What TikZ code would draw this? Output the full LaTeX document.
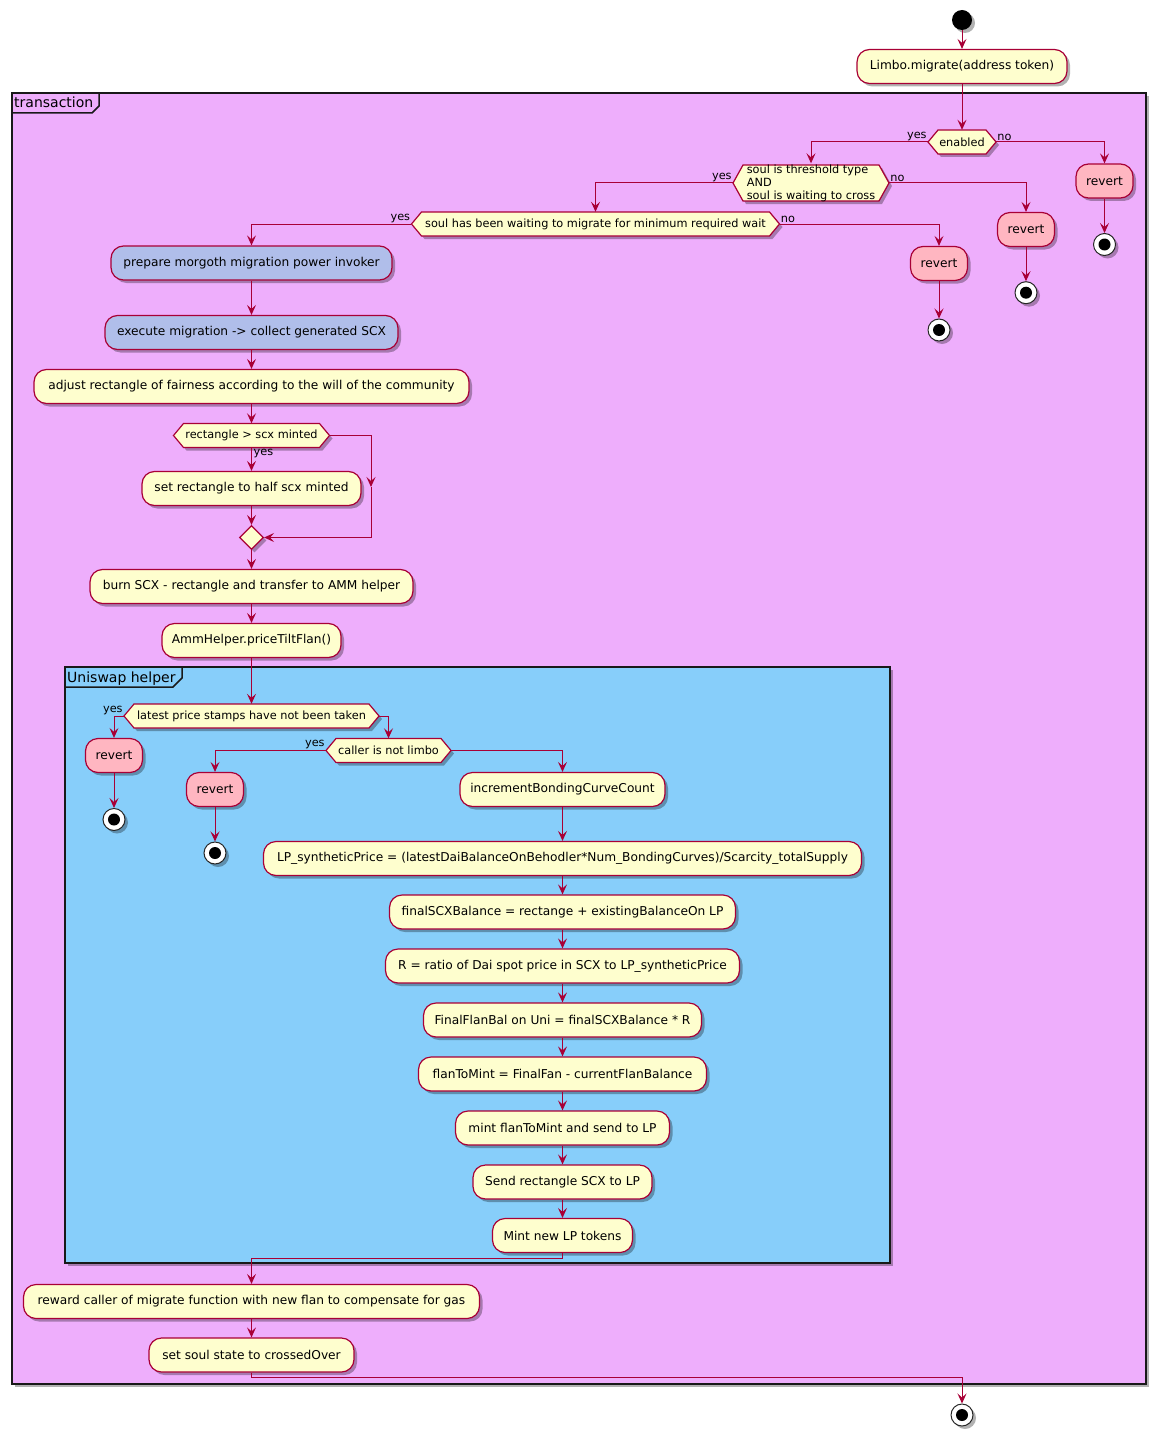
\documentclass[tikz,border=0pt]{standalone}
\usepackage{fontspec}
\setmainfont{DejaVu Sans}
\usetikzlibrary{arrows.meta,shadows,shapes.geometric}

\definecolor{umlborder}{RGB}{168,0,54}
\definecolor{umlcream}{RGB}{254,254,206}
\definecolor{umlpink}{RGB}{255,182,193}
\definecolor{umlsteel}{RGB}{176,190,234}
\definecolor{txfill}{RGB}{238,174,252}
\definecolor{uniswapfill}{RGB}{135,206,250}

\tikzset{
  shade/.style={drop shadow={shadow xshift=3pt,shadow yshift=-3pt,opacity=.3,fill=black}},
  act/.style={draw=umlborder, line width=1.2pt, fill=umlcream, rounded corners=12.5pt,
    minimum height=34pt, inner sep=0pt, font=\fontsize{12.2}{14}\selectfont, shade},
  revertbox/.style={act, fill=umlpink, minimum width=57pt},
  steelbox/.style={act, fill=umlsteel},
  decshape/.style={draw=umlborder, line width=1.2pt, fill=umlcream, shade},
  dectext/.style={inner sep=0pt, font=\fontsize{11.3}{13}\selectfont},
  mergebox/.style={diamond, draw=umlborder, line width=1.2pt, fill=umlcream,
    minimum width=24pt, minimum height=24pt, inner sep=0pt, shade},
  lbl/.style={inner sep=1pt, font=\fontsize{11.3}{13}\selectfont},
  arr/.style={draw=umlborder, line width=1pt, -{Stealth[length=10pt,width=9pt,inset=4pt]}},
  startnode/.style={circle, fill=black, minimum size=20pt, inner sep=0pt, shade},
  stopnode/.style={circle, draw=black!85, line width=1pt, fill=white, minimum size=22pt,
    inner sep=0pt, shade,
    path picture={\fill[black] (path picture bounding box.center) circle (6pt);}},
  framebox/.style={draw=black!90, line width=1.5pt, inner sep=0pt, shade},
  frametab/.style={draw=black!90, line width=1.5pt},
  framelabel/.style={inner sep=0pt, anchor=base west, font=\fontsize{14}{16}\selectfont},
}

% hexagonal decision: name, centre x, centre y, half width, half height, text
\newcommand\umldecision[6]{%
  \filldraw[decshape] ({#2-#4},#3) -- ({#2-#4+10},{#3-#5}) -- ({#2+#4-10},{#3-#5})
    -- ({#2+#4},#3) -- ({#2+#4-10},{#3+#5}) -- ({#2-#4+10},{#3+#5}) -- cycle;
  \node[dectext, minimum width={2*#4}, minimum height={2*#5}] (#1) at (#2,#3) {#6};%
}

\begin{document}
\begin{tikzpicture}[x=1pt,y=-1pt]
\useasboundingbox (0,0) rectangle (1161,1442);

% frames
\node[framebox, fill=txfill, minimum width=1134pt, minimum height=1291pt] (trans) at (579,738.5) {};
\draw[frametab] (99,93) -- (99,106) -- (92,113) -- (12,113);
\node[framelabel] (translbl) at (14,108) {transaction};

\node[framebox, fill=uniswapfill, minimum width=825pt, minimum height=596pt] (uni) at (477.5,965) {};
\draw[frametab] (182,667) -- (182,678) -- (173,687) -- (65,687);
\node[framelabel] (unilbl) at (67,682) {Uniswap helper};

% top of the flow
\node[startnode] (start) at (962,20) {};
\node[act, minimum width=210pt] (limbo) at (962,66.5) {Limbo.migrate(address token)};

\umldecision{enabled}{962}{142}{34}{12}{enabled}
\node[revertbox] (revert1) at (1104.5,181) {revert};
\node[stopnode] (stop1) at (1104.5,244.5) {};

\umldecision{soul}{811}{183}{78}{18}{\raisebox{-1pt}[\height][\depth]{\begin{tabular}{@{}l@{}}soul is threshold type\\AND\\soul is waiting to cross\end{tabular}}}
\node[revertbox] (revert2) at (1026,229.5) {revert};
\node[stopnode] (stop2) at (1026,292.7) {};

\umldecision{wait}{595.5}{224}{184}{12}{soul has been waiting to migrate for minimum required wait}
\node[revertbox] (revert3) at (939,263.5) {revert};
\node[stopnode] (stop3) at (939,330) {};

\node[steelbox, minimum width=281pt] (prepare) at (251.5,263) {prepare morgoth migration power invoker};
\node[steelbox, minimum width=293pt] (execute) at (251.5,332.5) {execute migration -> collect generated SCX};
\node[act, minimum width=435pt] (adjust) at (251.5,386.5) {adjust rectangle of fairness according to the will of the community};

\umldecision{rectcond}{251.5}{435.5}{78}{12}{rectangle > scx minted}
\node[act, minimum width=219pt] (setrect) at (251.5,488.5) {set rectangle to half scx minted};
\coordinate (bypass) at (371,487);
\node[mergebox] (merge) at (251.5,537.5) {};
\node[act, minimum width=323pt] (burn) at (251.5,586.5) {burn SCX - rectangle and transfer to AMM helper};
\node[act, minimum width=179pt] (amm) at (251.5,640.5) {AmmHelper.priceTiltFlan()};

% Uniswap helper
\umldecision{latest}{251.5}{716}{127.5}{12}{latest price stamps have not been taken}
\node[revertbox] (revert4) at (114,755.5) {revert};
\node[stopnode] (stop4) at (114,819.5) {};

\umldecision{caller}{388.5}{750.5}{62.5}{12}{caller is not limbo}
\node[revertbox] (revert5) at (215,789.5) {revert};
\node[stopnode] (stop5) at (215,853) {};

\node[act, minimum width=205pt] (incr) at (562.5,789.5) {incrementBondingCurveCount};
\node[act, minimum width=598pt] (lp) at (562.5,858.5) {LP\_syntheticPrice = (latestDaiBalanceOnBehodler*Num\_BondingCurves)/Scarcity\_totalSupply};
\node[act, minimum width=346pt] (finalscx) at (562.5,912) {finalSCXBalance = rectange + existingBalanceOn LP};
\node[act, minimum width=354pt] (ratio) at (562.5,966) {R = ratio of Dai spot price in SCX to LP\_syntheticPrice};
\node[act, minimum width=278pt] (finalflan) at (562.5,1020) {FinalFlanBal on Uni = finalSCXBalance * R};
\node[act, minimum width=288pt] (flantomint) at (562.5,1074) {flanToMint = FinalFan - currentFlanBalance};
\node[act, minimum width=214pt] (mintsend) at (562.5,1128) {mint flanToMint and send to LP};
\node[act, minimum width=179pt] (sendrect) at (562.5,1182) {Send rectangle SCX to LP};
\node[act, minimum width=140pt] (mintlp) at (562.5,1235.5) {Mint new LP tokens};

% closing steps
\node[act, minimum width=456pt] (reward) at (251.5,1301.5) {reward caller of migrate function with new flan to compensate for gas};
\node[act, minimum width=205pt] (soulstate) at (251.5,1355) {set soul state to crossedOver};
\node[stopnode] (stopend) at (962,1415) {};

% connectors
\draw[arr] (start) -- (limbo);
\draw[arr] (limbo) -- (enabled.north);
\draw[arr] (enabled.west) -| (soul.north);
\draw[arr] (enabled.east) -| (revert1.north);
\draw[arr] (revert1) -- (stop1);
\draw[arr] (soul.west) -| (wait.north);
\draw[arr] (soul.east) -| (revert2.north);
\draw[arr] (revert2) -- (stop2);
\draw[arr] (wait.west) -| (prepare.north);
\draw[arr] (wait.east) -| (revert3.north);
\draw[arr] (revert3) -- (stop3);
\draw[arr] (prepare) -- (execute);
\draw[arr] (execute) -- (adjust);
\draw[arr] (adjust) -- (rectcond.north);
\draw[arr] (rectcond.south) -- (setrect);
\draw[arr] (rectcond.east) -| (bypass);
\draw[arr] (bypass) |- (merge.east);
\draw[arr] (setrect) -- (merge.north);
\draw[arr] (merge.south) -- (burn);
\draw[arr] (burn) -- (amm);
\draw[arr] (amm) -- (latest.north);
\draw[arr] (latest.west) -| (revert4.north);
\draw[arr] (revert4) -- (stop4);
\draw[arr] (latest.east) -| (caller.north);
\draw[arr] (caller.west) -| (revert5.north);
\draw[arr] (revert5) -- (stop5);
\draw[arr] (caller.east) -| (incr.north);
\draw[arr] (incr) -- (lp);
\draw[arr] (lp) -- (finalscx);
\draw[arr] (finalscx) -- (ratio);
\draw[arr] (ratio) -- (finalflan);
\draw[arr] (finalflan) -- (flantomint);
\draw[arr] (flantomint) -- (mintsend);
\draw[arr] (mintsend) -- (sendrect);
\draw[arr] (sendrect) -- (mintlp);
\draw[arr] (mintlp.south) -- ++(0,5) -| (reward.north);
\draw[arr] (reward) -- (soulstate);
\draw[arr] (soulstate.south) -- ++(0,5) -| (stopend.north);

% branch labels
\node[lbl, anchor=south east] (l1) at (enabled.west) {yes};
\node[lbl, anchor=south west] (l2) at (enabled.east) {no};
\node[lbl, anchor=south east] (l3) at (soul.west) {yes};
\node[lbl, anchor=south west] (l4) at (soul.east) {no};
\node[lbl, anchor=south east] (l5) at (wait.west) {yes};
\node[lbl, anchor=south west] (l6) at (wait.east) {no};
\node[lbl, anchor=north west, xshift=1pt] (l7) at (rectcond.south) {yes};
\node[lbl, anchor=south east] (l8) at (latest.west) {yes};
\node[lbl, anchor=south east] (l9) at (caller.west) {yes};
\end{tikzpicture}
\end{document}
